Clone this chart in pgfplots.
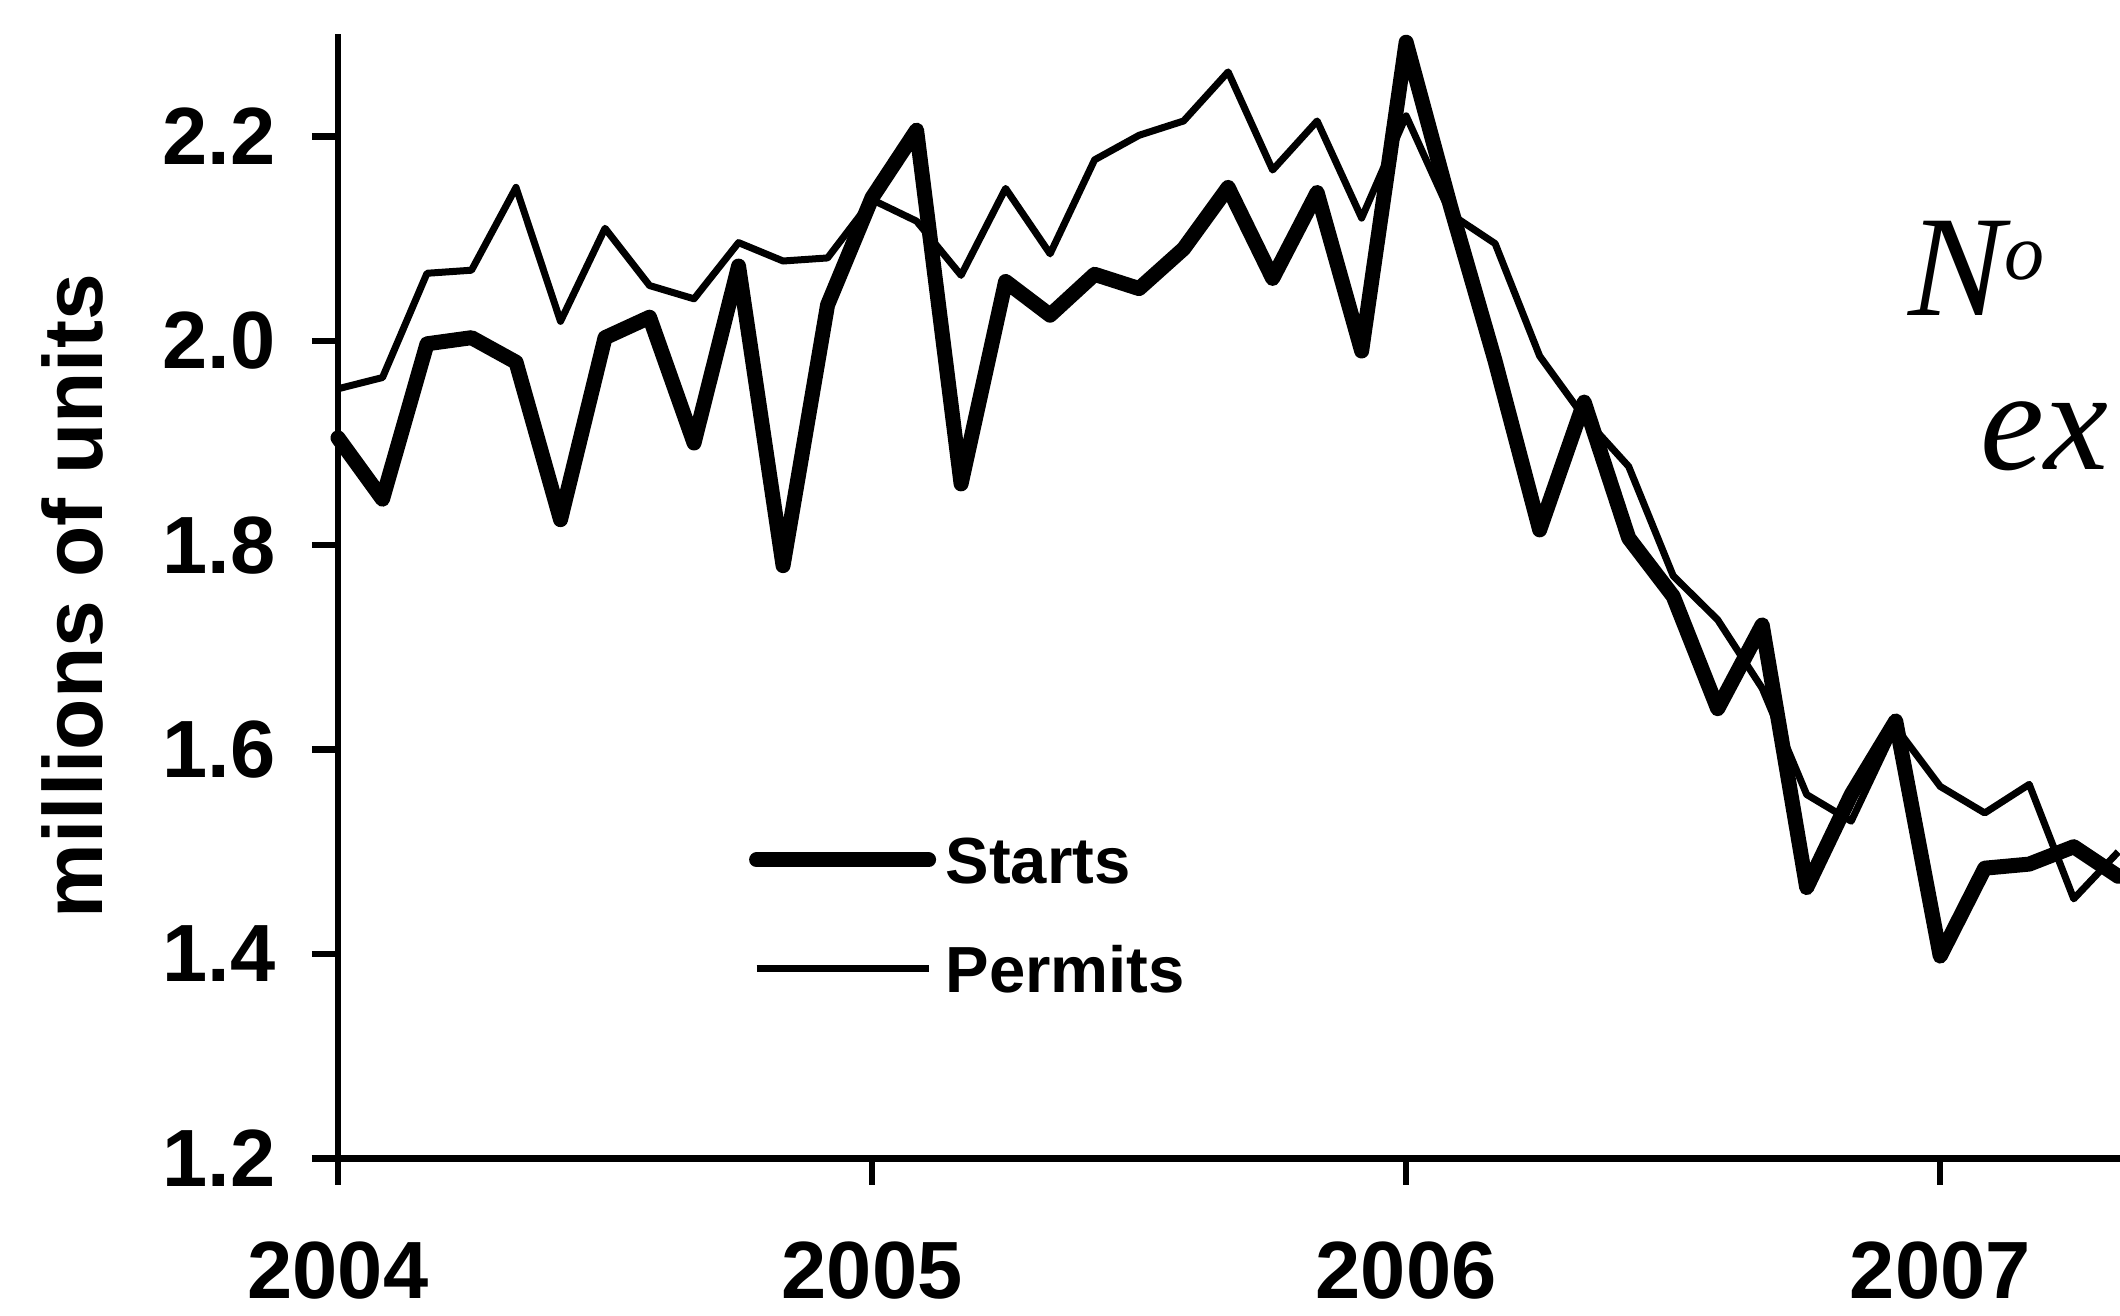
\documentclass[border=0pt]{standalone}
\usepackage{pgfplots}
\pgfplotsset{compat=1.18}
\usepackage{fontspec}
\setmainfont{Liberation Sans}
\newfontfamily\handfont{Liberation Serif}

\pgfplotstableread{
m v
0 1.905
1 1.845
2 1.997
3 2.003
4 1.979
5 1.825
6 2.003
7 2.023
8 1.900
9 2.073
10 1.780
11 2.035
12 2.140
13 2.206
14 1.860
15 2.058
16 2.025
17 2.065
18 2.051
19 2.090
20 2.150
21 2.061
22 2.145
23 1.990
24 2.292
25 2.131
26 1.980
27 1.815
28 1.940
29 1.807
30 1.750
31 1.640
32 1.722
33 1.465
34 1.556
35 1.628
36 1.398
37 1.484
38 1.488
39 1.505
40 1.476
}\starts

\pgfplotstableread{
m v
0 1.953
1 1.964
2 2.066
3 2.069
4 2.150
5 2.019
6 2.110
7 2.054
8 2.041
9 2.096
10 2.078
11 2.081
12 2.138
13 2.117
14 2.064
15 2.149
16 2.085
17 2.177
18 2.201
19 2.215
20 2.263
21 2.167
22 2.215
23 2.120
24 2.220
25 2.124
26 2.095
27 1.985
28 1.925
29 1.877
30 1.770
31 1.727
32 1.660
33 1.556
34 1.530
35 1.622
36 1.564
37 1.538
38 1.566
39 1.454
40 1.500
}\permits

\begin{document}
\begin{tikzpicture}
\useasboundingbox (0,0) rectangle (530pt,329pt);
\begin{axis}[
  at={(84.5pt,39.375pt)}, anchor=south west,
  scale only axis, width=445.5pt, height=281.1pt,
  xmin=0, xmax=40.04, ymin=1.2, ymax=2.3,
  axis x line*=bottom, axis y line*=left,
  axis line style={line width=1.6pt, -},
  clip=false,
  xtick={0,12,24,36}, xticklabels={2004,2005,2006,2007},
  ytick={1.2,1.4,1.6,1.8,2.0,2.2},
  yticklabels={1.2,1.4,1.6,1.8,2.0,2.2},
  tick align=outside, major tick length=6.5pt,
  tick style={line width=1.6pt, black},
  minor tick num=0,
  ticklabel style={font=\fontsize{20.3pt}{24pt}\selectfont\bfseries, inner sep=0pt},
  xticklabel style={anchor=base, yshift=-28.5pt},
  yticklabel style={anchor=east, xshift=-9pt},
  ylabel={millions of units},
  ylabel style={at={(axis description cs:-0.1319,0.5)}, anchor=base, rotate=0,
    font=\fontsize{21pt}{25pt}\selectfont\bfseries, inner sep=0pt},
  legend cell align=left,
  legend style={draw=none, fill=none, inner sep=0pt, outer sep=0pt,
    at={(axis description cs:0.2307,0.2869)}, anchor=north west,
    font=\fontsize{16.3pt}{19pt}\selectfont\bfseries,
    nodes={inner sep=0pt, text height=12pt, text depth=0pt},
    row sep=15.2pt, column sep=2.4pt},
  legend image code/.code={\draw[#1] (0pt,0pt) -- (43pt,0pt);},
]
\addplot[black, line width=3.75pt, line join=round, line cap=round] table[x=m, y=v] {\starts};
\addlegendentry{Starts}
\addplot[black, line width=1.75pt, line join=round] table[x=m, y=v] {\permits};
\addlegendentry{Permits}
\end{axis}
\node[anchor=base west, inner sep=0pt, font=\handfont\itshape\fontsize{36pt}{40pt}\selectfont] at (477pt,250pt) {N\raisebox{9pt}{\fontsize{20pt}{22pt}\selectfont o}};
\node[anchor=base west, inner sep=0pt, font=\handfont\itshape\fontsize{36pt}{40pt}\selectfont] at (495pt,211.5pt) {ex};
\end{tikzpicture}
\end{document}
